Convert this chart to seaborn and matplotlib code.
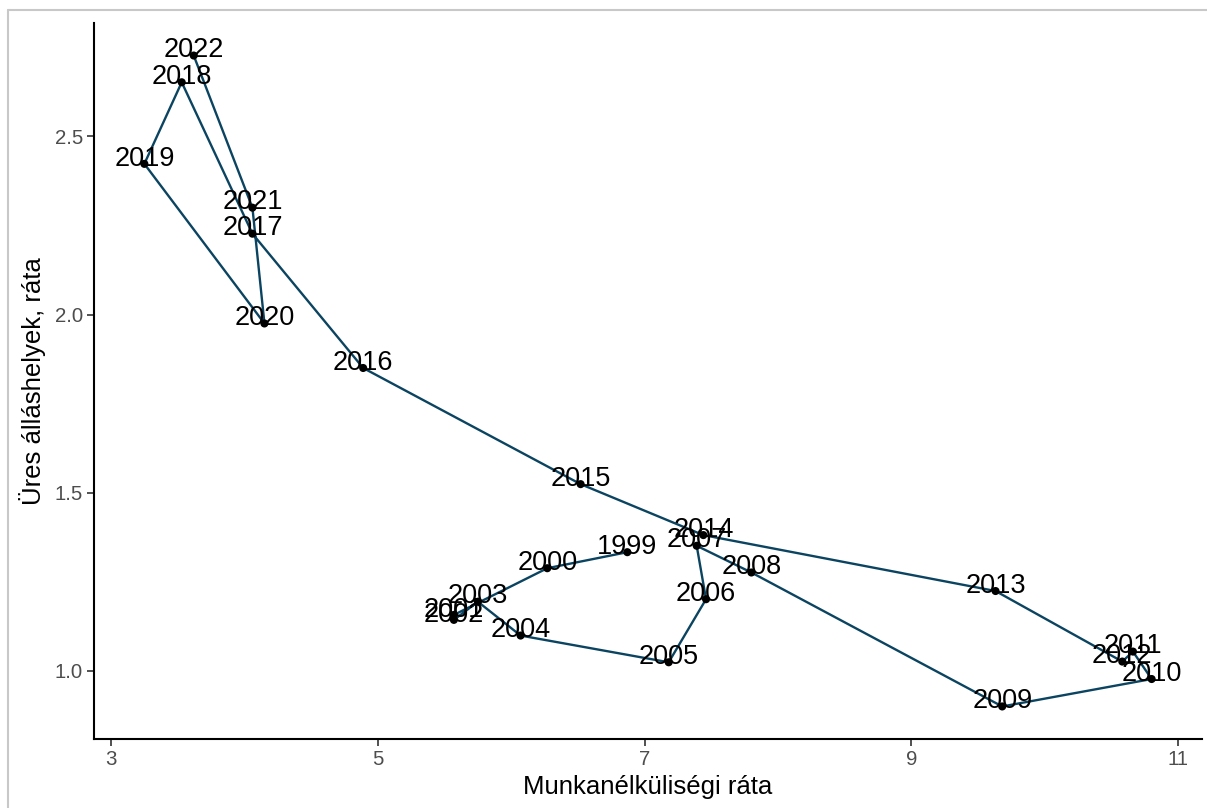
import matplotlib
matplotlib.use("Agg")
import matplotlib.pyplot as plt
from matplotlib.lines import Line2D
import seaborn as sns
import pandas as pd

years = list(range(1999, 2023))
unemployment = [6.87, 6.27, 5.57, 5.57, 5.75, 6.07, 7.18, 7.46, 7.39, 7.80,
                9.68, 10.80, 10.66, 10.58, 9.63, 7.44, 6.52, 4.89, 4.06, 3.53,
                3.25, 4.15, 4.06, 3.62]
vacancy = [1.333, 1.288, 1.157, 1.143, 1.194, 1.099, 1.024, 1.201, 1.351, 1.276,
           0.900, 0.977, 1.054, 1.026, 1.224, 1.381, 1.524, 1.850, 2.227, 2.652,
           2.423, 1.975, 2.300, 2.727]
x_ticks = [3, 5, 7, 9, 11]
y_ticks = [1.0, 1.5, 2.0, 2.5]

df = pd.DataFrame({"year": years, "u": unemployment, "v": vacancy})

sns.set_style("white")
plt.rcParams["font.family"] = ["Liberation Sans", "DejaVu Sans"]

W, H = 1207, 808
fig = plt.figure(figsize=(W / 100, H / 100), dpi=100)
ax = fig.add_axes([94 / W, 1 - 739 / H, (1202 - 94) / W, (739 - 23) / H])

line_col = "#0b4461"
sns.lineplot(data=df, x="u", y="v", sort=False, estimator=None, ax=ax,
             color=line_col, linewidth=1.7)
sns.scatterplot(data=df, x="u", y="v", ax=ax, color="black", s=34,
                edgecolor="none", zorder=3)

for yr, xv, yv in zip(years, unemployment, vacancy):
    ax.annotate(str(yr), (xv, yv), xytext=(0, -1.2), textcoords="offset points",
                ha="center", va="baseline", fontsize=19.5, color="black",
                zorder=4)

ax.margins(x=0.05, y=0.05)
ax.set_xticks(x_ticks)
ax.set_xticklabels([str(t) for t in x_ticks])
ax.set_yticks(y_ticks)
ax.set_yticklabels([f"{t:.1f}" for t in y_ticks])
ax.tick_params(axis="both", which="major", length=5, width=1.2, color="#333333",
               labelsize=14.7, labelcolor="#4d4d4d", pad=3, direction="out",
               bottom=True, left=True)

for side in ["top", "right"]:
    ax.spines[side].set_visible(False)
for side in ["left", "bottom"]:
    ax.spines[side].set_visible(True)
    ax.spines[side].set_color("black")
    ax.spines[side].set_linewidth(1.5)

ax.set_xlabel("Munkanélküliségi ráta", fontsize=18.5, color="black", labelpad=4)
ax.set_ylabel("Üres álláshelyek, ráta", fontsize=18.5, color="black", labelpad=6)
ax.grid(False)

# light frame around the picture (cropped at right and bottom)
fig.add_artist(Line2D([8 / W, 8 / W], [1 - 10 / H, 0], transform=fig.transFigure,
                      color="#c8c8c8", linewidth=1.5))
fig.add_artist(Line2D([8 / W, 1], [1 - 10 / H, 1 - 10 / H], transform=fig.transFigure,
                      color="#c8c8c8", linewidth=1.5))

fig.savefig("out.png", dpi=100, facecolor="white")
